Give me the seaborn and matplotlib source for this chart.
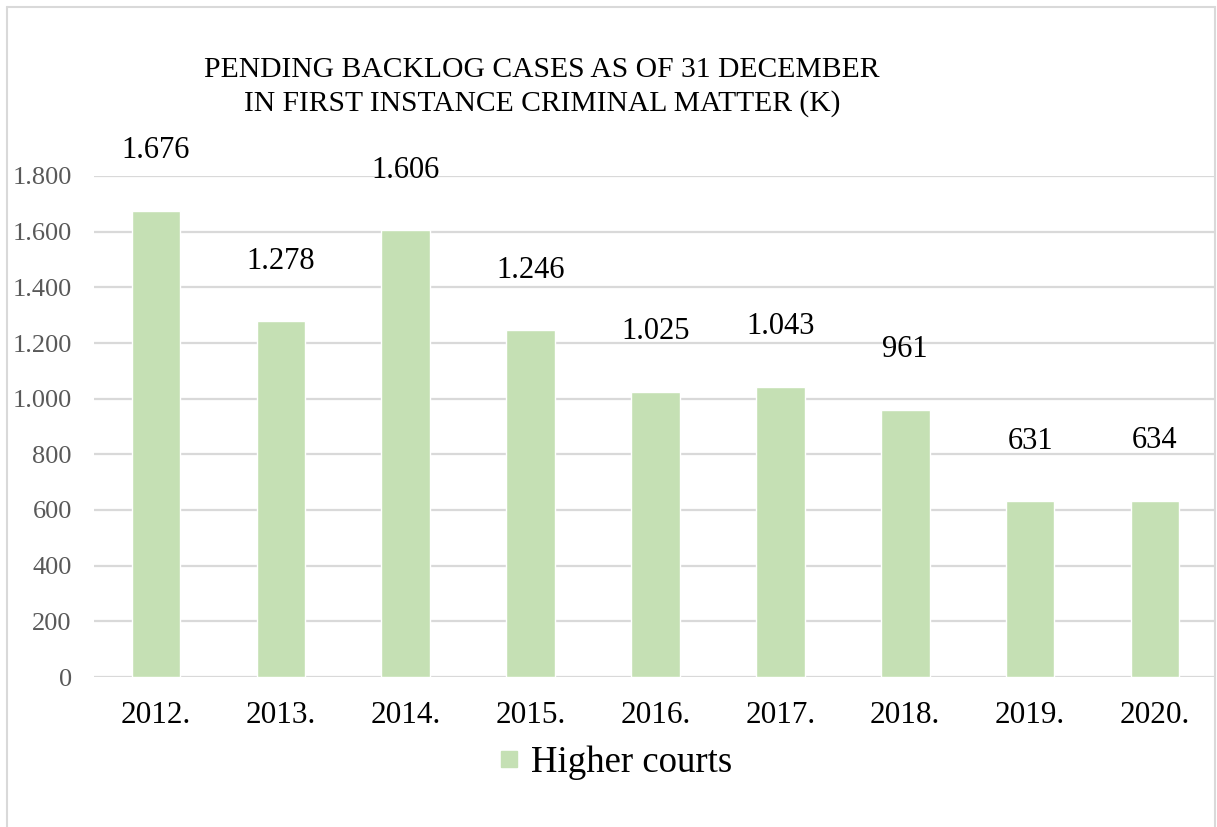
import matplotlib
matplotlib.use("Agg")
import matplotlib.pyplot as plt
import seaborn as sns
import pandas as pd
from matplotlib.lines import Line2D
from matplotlib.ticker import FuncFormatter

years = ["2012.", "2013.", "2014.", "2015.", "2016.", "2017.", "2018.", "2019.", "2020."]
values = [1676, 1278, 1606, 1246, 1025, 1043, 961, 631, 634]
series_name = "Higher courts"
title = "PENDING BACKLOG CASES AS OF 31 DECEMBER\nIN FIRST INSTANCE CRIMINAL MATTER (K)"
yticks = [0, 200, 400, 600, 800, 1000, 1200, 1400, 1600, 1800]

sns.set_theme(style="white")
plt.rcParams["font.family"] = ["Liberation Serif", "DejaVu Serif"]

W, H = 1217, 827
fig = plt.figure(figsize=(W / 100, H / 100), dpi=100)
ax = fig.add_axes([94 / W, 1 - 677 / H, 1120 / W, (677 - 176) / H])

df = pd.DataFrame({"year": years, "value": values, "series": series_name})
bar_color = "#C5E0B4"
sns.barplot(data=df, x="year", y="value", hue="series", palette={series_name: bar_color},
            width=0.39, ax=ax, edgecolor="white", linewidth=1, zorder=3, saturation=1)

ax.set_xlim(-0.4965, 8.4725)
ax.set_ylim(0, 1800)
ax.set_yticks(yticks)
ax.yaxis.set_major_formatter(FuncFormatter(lambda v, p: f"{int(v):,}".replace(",", ".")))
ax.grid(axis="y", color="#D9D9D9", linewidth=1.6, zorder=0)
ax.set_axisbelow(True)
for s in ax.spines.values():
    s.set_visible(False)
ax.set_xlabel("")
ax.set_ylabel("")
ax.tick_params(axis="y", labelsize=19, labelcolor="#595959", length=0, pad=16)
ax.tick_params(axis="x", labelsize=22.5, labelcolor="black", length=0, pad=17)

for i, v in enumerate(values):
    ax.annotate(f"{v:,}".replace(",", "."), xy=(i, v), xytext=(0, 43), textcoords="offset points",
                ha="center", va="center", fontsize=22, color="black", annotation_clip=False)

fig.text(542 / W, 1 - 87 / H, title, ha="center", va="center", fontsize=21.3, color="black",
         linespacing=1.3)

leg = ax.get_legend()
if leg is not None:
    leg.remove()
handle = Line2D([], [], marker="s", linestyle="none", markersize=12, markerfacecolor=bar_color,
                markeredgecolor=bar_color)
fig.legend([handle], [series_name], loc="center", bbox_to_anchor=(612 / W, 1 - 763 / H),
           frameon=False, fontsize=26.5, handletextpad=0.15, handlelength=0.9, labelcolor="black")

# outer chart border
bc = "#D9D9D9"
fig.add_artist(Line2D([7 / W, 7 / W], [0, 1 - 7 / H], transform=fig.transFigure, color=bc, lw=1.5))
fig.add_artist(Line2D([7 / W, 1215 / W], [1 - 7 / H, 1 - 7 / H], transform=fig.transFigure, color=bc, lw=1.5))
fig.add_artist(Line2D([1215 / W, 1215 / W], [0, 1 - 7 / H], transform=fig.transFigure, color=bc, lw=1.5))

fig.savefig("out.png", dpi=100, facecolor="white")
